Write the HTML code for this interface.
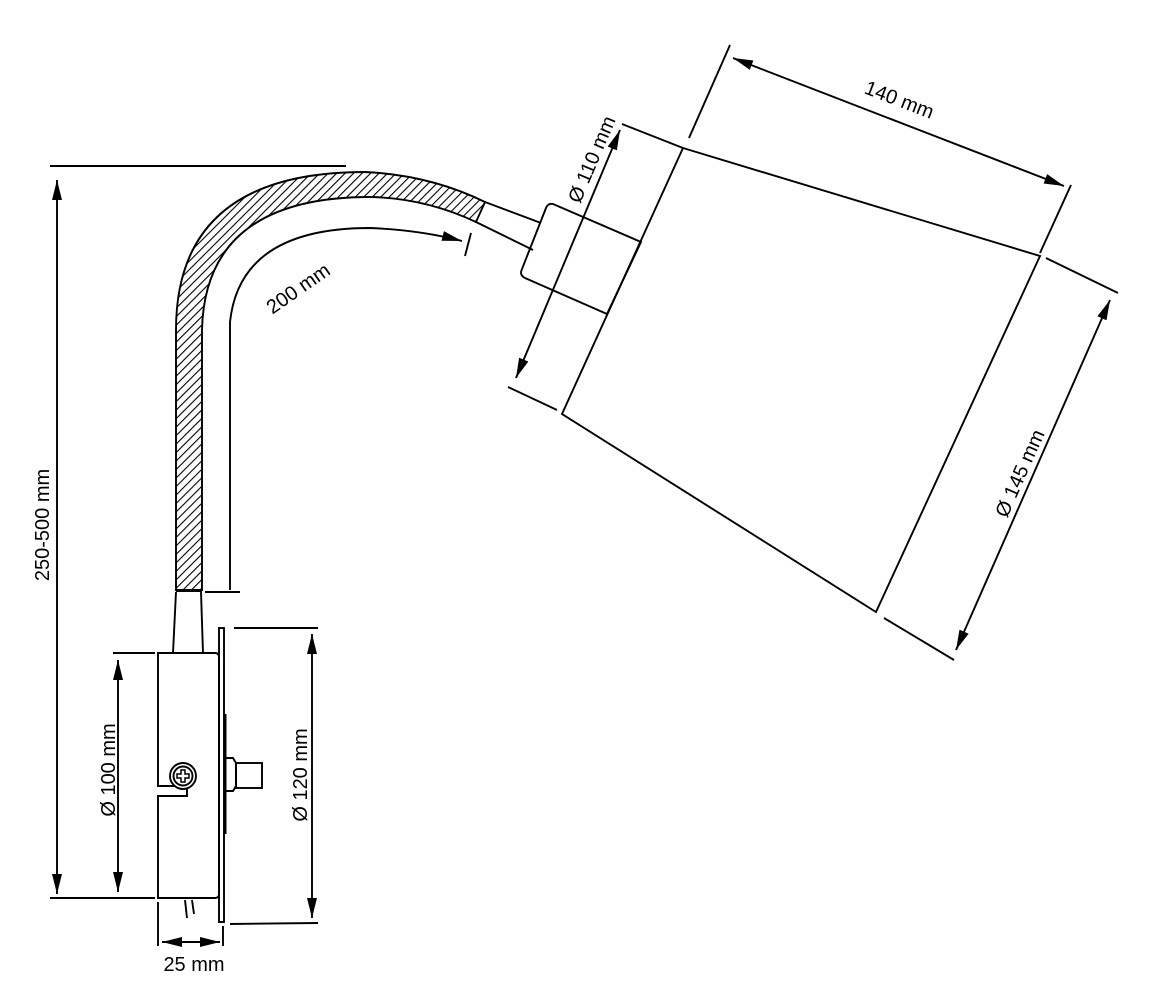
<!DOCTYPE html>
<html><head><style>html,body{margin:0;padding:0;background:#fff}svg{display:block}</style></head>
<body>
<svg width="1151" height="1005" viewBox="0 0 1151 1005" xmlns="http://www.w3.org/2000/svg">
<defs>
<pattern id="h" width="6" height="6" patternUnits="userSpaceOnUse" patternTransform="rotate(45)">
<line x1="0" y1="0" x2="0" y2="6" stroke="#000" stroke-width="2.2"/>
</pattern>
<marker id="b" viewBox="0 0 20 10" refX="20" refY="5" markerWidth="20" markerHeight="10" orient="auto-start-reverse" markerUnits="userSpaceOnUse"><path d="M0,0 L20,5 L0,10 z"/></marker>
</defs>
<g fill="none" stroke="#000" stroke-width="1.9">
<path d="M176,590 L176,330 Q176,172 365,172 Q430,175 485,202 L476,222 Q425,198 370,197 Q205,197 202,330 L202,590 Z" fill="url(#h)"/>
<line x1="176" y1="591" x2="202" y2="591"/>
<line x1="485" y1="202" x2="541" y2="223"/>
<line x1="476" y1="222" x2="533" y2="250"/>
<path d="M553,204 L641,242 L607,314 L525,278 Q519,275 522,269 L546,208 Q548,203 553,204 Z"/>
<path d="M683,148 L1040,256 L876,612 L562,414 Z"/>
<line x1="622" y1="124" x2="683" y2="148"/>
<line x1="1046" y1="258" x2="1118" y2="293"/>
<line x1="508" y1="387" x2="557" y2="410"/>
<line x1="884" y1="618" x2="954" y2="660"/>
<line x1="730" y1="45" x2="689" y2="138"/>
<line x1="1071" y1="185" x2="1040" y2="253"/>
<line x1="733" y1="58" x2="1064" y2="186" marker-start="url(#b)" marker-end="url(#b)"/>
<line x1="620" y1="130" x2="516" y2="378" marker-start="url(#b)" marker-end="url(#b)"/>
<line x1="1110" y1="300" x2="956" y2="650" marker-start="url(#b)" marker-end="url(#b)"/>
<path d="M230,590 L230,322 Q240,228 370,228 Q420,230 462,241" marker-end="url(#b)"/>
<line x1="471" y1="233" x2="465" y2="256"/>
<line x1="205" y1="592" x2="240" y2="592"/>
<line x1="50" y1="166" x2="346" y2="166"/>
<line x1="57" y1="180" x2="57" y2="894" marker-start="url(#b)" marker-end="url(#b)"/>
<line x1="50" y1="898" x2="155" y2="898"/>
<line x1="176" y1="592" x2="173" y2="653"/>
<line x1="201" y1="592" x2="203" y2="653"/>
<path d="M158,653 L215,653 Q219,653 219,657 L219,894 Q219,898 215,898 L158,898 L158,796 L187,796 L187,786 L158,786 Z"/>
<circle cx="183" cy="776" r="13" fill="#fff"/>
<circle cx="183" cy="776" r="9.5"/>
<path d="M181,770 h4 v4 h4 v4 h-4 v4 h-4 v-4 h-4 v-4 h4 z" stroke-width="1.5"/>
<rect x="219" y="628" width="5" height="294"/>
<line x1="225" y1="714" x2="225" y2="834" stroke-width="3"/>
<path d="M226,758 L233,758 L236,763 L236,786 L233,791 L226,791"/>
<rect x="236" y="763" width="26" height="25"/>
<line x1="185" y1="900" x2="187" y2="918"/>
<line x1="192" y1="900" x2="194" y2="914"/>
<line x1="234" y1="628" x2="318" y2="628"/>
<line x1="230" y1="924" x2="318" y2="923"/>
<line x1="312" y1="634" x2="312" y2="918" marker-start="url(#b)" marker-end="url(#b)"/>
<line x1="113" y1="653" x2="155" y2="653"/>
<line x1="118" y1="660" x2="118" y2="892" marker-start="url(#b)" marker-end="url(#b)"/>
<line x1="158" y1="902" x2="158" y2="946"/>
<line x1="223" y1="926" x2="223" y2="946"/>
<line x1="162" y1="942" x2="220" y2="942" marker-start="url(#b)" marker-end="url(#b)"/>
</g>
<g font-family="Liberation Sans, sans-serif" font-size="20" fill="#000" text-anchor="middle">
<text transform="translate(49,525) rotate(-90)">250-500 mm</text>
<text transform="translate(115,770) rotate(-90)">Ø 100 mm</text>
<text transform="translate(307,775) rotate(-90)">Ø 120 mm</text>
<text x="194" y="971">25 mm</text>
<text transform="translate(302,294) rotate(-35)">200 mm</text>
<text transform="translate(897,106) rotate(21)">140 mm</text>
<text transform="translate(598,162) rotate(-67)">Ø 110 mm</text>
<text transform="translate(1026,476) rotate(-66)">Ø 145 mm</text>
</g>
</svg>
</body></html>
